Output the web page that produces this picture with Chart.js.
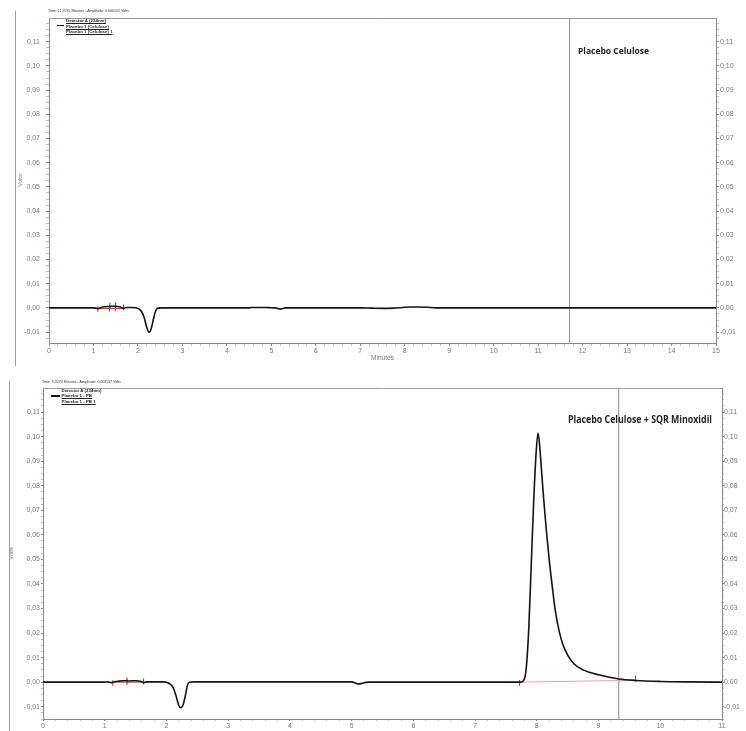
<!DOCTYPE html>
<html><head><meta charset="utf-8">
<script src="https://cdn.jsdelivr.net/npm/chart.js@4.4.1/dist/chart.umd.min.js"></script>
<style>
body{margin:0;background:#fff;overflow:hidden;font-family:"Liberation Sans",Arial,sans-serif;}
#wrap{position:relative;width:746px;height:731px;}
canvas{position:absolute;left:0;}
.vline{position:absolute;width:0;border-left:1px solid #9a9a9a;}
.hdr{position:absolute;white-space:nowrap;font-size:3.6px;line-height:1;color:#333;}
.leg{position:absolute;white-space:nowrap;font-size:4.4px;line-height:5.3px;color:#222;font-weight:bold;}
.leg div{text-decoration:underline;}
.sw{position:absolute;background:#111;}
.ttl{position:absolute;white-space:nowrap;font-family:"Open Sans",sans-serif;font-weight:700;color:#222;line-height:1;transform-origin:left center;}
</style></head><body>
<div id="wrap">
<canvas id="c1" width="746" height="365" style="top:0"></canvas>
<canvas id="c2" width="746" height="363" style="top:368px"></canvas>
<div class="vline" style="left:15px;top:11px;height:355px"></div>
<div class="vline" style="left:9px;top:381px;height:350px"></div>
<div class="hdr" style="left:48px;top:10.2px">Time: 11,7075 Minutes - Amplitude: 0,000102 Volts</div>
<div class="hdr" style="left:42px;top:381px">Time: 9,3270 Minutes - Amplitude: 0,001137 Volts</div>
<div class="leg" style="left:66px;top:18.4px"><div>Detector A (234nm)</div><div>Placebo 1 (Celulose)</div><div>Placebo 1 (Celulose) 1</div></div>
<div class="sw" style="left:57px;top:25px;width:7px;height:1.2px"></div>
<div class="leg" style="left:61.5px;top:388.2px"><div style="text-decoration:none">Detector A (234nm)</div><div>Placebo 1 - PB</div><div>Placebo 1 - PB 1</div></div>
<div class="sw" style="left:51px;top:395px;width:8.5px;height:1.6px"></div>
<div class="ttl" data-w="71" style="left:578px;top:46.2px;font-size:9.5px">Placebo Celulose</div>
<div class="ttl" data-w="144" style="left:568px;top:414px;font-size:10px">Placebo Celulose + SQR Minoxidil</div>
</div>
<script>
// ---- Data: chromatogram 1 (Placebo Celulose), minutes / volts
const topTimes = [0, 0.5, 1.0, 1.05, 1.1, 1.17, 1.25, 1.35, 1.45, 1.55, 1.62, 1.68, 1.74, 1.85, 1.95, 2.02, 2.08, 2.14, 2.2, 2.25, 2.3, 2.35, 2.4, 2.45, 2.55, 3.0, 4.0, 4.5, 4.55, 4.85, 4.95, 5.1, 5.15, 5.2, 5.25, 5.32, 6.0, 7.0, 7.25, 7.55, 7.75, 7.95, 8.15, 8.3, 8.5, 8.7, 9.0, 12.0, 15.0];
const topVolts = [0, 0, 0, -0.0001, -0.0003, 0.0002, 0.0005, 0.0006, 0.0007, 0.0006, 0.0003, -0.0002, 0.0002, 0.0002, 0.0001, -0.0004, -0.0015, -0.004, -0.0082, -0.0100, -0.0085, -0.0045, -0.0012, -0.0001, 0, 0, 0, 0, 0.0002, 0.0002, 0.0001, 0, -0.0003, -0.0005, -0.0003, 0, 0, 0, -0.0001, -0.0002, -0.0001, 0.0002, 0.0004, 0.0004, 0.0003, 0, 0, 0, 0];
const topCursor = 11.7075;
const topRedLineX = [1.1, 1.68], topRedLineY = [-0.0003, -0.0002];
const topRedTickX = [1.1, 1.36, 1.49], topRedTickY = [-0.0004, -0.0003, -0.0003];
const topBlueTickX = [1.37, 1.5, 1.68], topBlueTickY = [0.0009, 0.0010, 0.0002];

// ---- Data: chromatogram 2 (Placebo Celulose + SQR Minoxidil)
const botTimes = [0, 0.5, 1.0, 1.05, 1.1, 1.15, 1.22, 1.3, 1.4, 1.5, 1.58, 1.63, 1.68, 1.75, 1.85, 1.95, 2.0, 2.06, 2.11, 2.16, 2.2, 2.23, 2.27, 2.31, 2.34, 2.37, 2.45, 3.0, 4.0, 5.0, 5.05, 5.1, 5.15, 5.2, 5.27, 6.0, 7.0, 7.74, 7.79, 7.83, 7.87, 7.91, 7.95, 7.99, 8.02, 8.05, 8.08, 8.11, 8.15, 8.2, 8.25, 8.3, 8.36, 8.42, 8.5, 8.6, 8.75, 9.0, 9.33, 9.6, 10.0, 10.5, 11.0];
const botVolts = [0, 0, 0, 0.0001, -0.0002, 0.0001, 0.0004, 0.0006, 0.0005, 0.0006, 0.0004, -0.0002, 0.0001, 0.0001, 0.0001, 0.0001, 0, -0.0008, -0.0023, -0.006, -0.0095, -0.0104, -0.0092, -0.005, -0.0012, 0, 0.0001, 0.0001, 0.0001, 0.0001, -0.0002, -0.0007, -0.0006, -0.0002, 0, 0, 0, 0, 0.0008, 0.006, 0.022, 0.048, 0.074, 0.094, 0.1015, 0.095, 0.085, 0.075, 0.063, 0.050, 0.039, 0.029, 0.021, 0.0155, 0.011, 0.0075, 0.005, 0.003, 0.0013, 0.0007, 0.0003, 0.0001, 0];
const botCursor = 9.327;
const botRedLineX = [1.13, 1.63], botRedLineY = [0, 0];
const botRedTickX = [1.13, 1.36, 7.72], botRedTickY = [-0.0004, 0.0001, -0.0003];
const botBlueTickX = [1.36, 1.63, 9.6], botBlueTickY = [0.0007, 0.0003, 0.0014];
const botPeakBaseX = [7.72, 9.6], botPeakBaseY = [0.0000, 0.0008];
const botPeakBase2X = [9.33, 9.6], botPeakBase2Y = [0.0006, 0.0008];

const pts = (xs, ys) => xs.map((x, i) => ({x, y: ys[i]}));
const isMajorY = v => Math.abs(v * 100 - Math.round(v * 100)) < 1e-6;
const fmtY = v => (Math.abs(v) < 1e-9 ? 0 : v).toFixed(2).replace('.', ',');
const FONT = '"Liberation Sans", Arial, sans-serif';

function yAxis(pos, min, max, width, tl, pad, title, titlePad) {
  return {
    type: 'linear', position: pos, min, max,
    afterFit: s => { s.width = width; },
    border: {display: true, color: '#8a8a8a', width: 1},
    grid: {drawOnChartArea: false, drawTicks: true, tickLength: tl,
      color: c => (c.tick && isMajorY(c.tick.value)) ? '#8a8a8a' : '#d8b0b0'},
    ticks: {stepSize: 0.0025, includeBounds: false, autoSkip: false, padding: pad,
      color: '#7a7a7a', font: {size: 7, family: FONT},
      callback: v => isMajorY(v) ? fmtY(v) : ''},
    title: title ? {display: true, text: 'Volts', color: '#7a7a7a', font: {size: 6, family: FONT},
      padding: {top: titlePad, bottom: 0}} : {display: false}
  };
}

const framePlugin = {
  id: 'frame',
  afterDraw(chart) {
    const {ctx, chartArea: a} = chart;
    ctx.save();
    ctx.strokeStyle = '#9a9a9a'; ctx.lineWidth = 1;
    ctx.beginPath(); ctx.moveTo(a.left, a.top + 0.5); ctx.lineTo(a.right, a.top + 0.5); ctx.stroke();
    ctx.restore();
  }
};

function makeChart(id, cfg) {
  const marks = (xs, ys, color) => ({type: 'scatter', data: pts(xs, ys), showLine: false,
    pointStyle: 'line', rotation: 90, pointRadius: 3, borderColor: color, borderWidth: 1, backgroundColor: color});
  const seg = (xs, ys, color, w) => ({type: 'line', data: pts(xs, ys), borderColor: color, borderWidth: w, pointRadius: 0, tension: 0});
  const datasets = [
    {type: 'line', data: pts(cfg.times, cfg.volts), borderColor: '#141414', borderWidth: 1.6,
      pointRadius: 0, cubicInterpolationMode: 'monotone', fill: false},
    ...cfg.extra.map(e => e.kind === 'seg' ? seg(e.x, e.y, e.color, e.w) : marks(e.x, e.y, e.color)),
    seg([cfg.cursor, cfg.cursor], [cfg.ymin, cfg.ymax], '#8e8e8e', 1)
  ];
  return new Chart(document.getElementById(id), {
    data: {datasets},
    options: {
      responsive: false, animation: false, events: [],
      layout: {padding: {top: cfg.padTop, left: 0, right: 0, bottom: 0}},
      plugins: {legend: {display: false}, tooltip: {enabled: false}},
      scales: {
        x: {
          type: 'linear', position: 'bottom', min: 0, max: cfg.xmax,
          afterFit: s => { s.height = cfg.xh; },
          border: {display: true, color: '#8a8a8a', width: 1},
          grid: {drawOnChartArea: false, drawTicks: true, tickLength: cfg.xtl,
            color: c => (c.tick && Math.abs(c.tick.value - Math.round(c.tick.value)) < 1e-6) ? '#8a8a8a' : '#c4c4c4'},
          ticks: {stepSize: 0.2, autoSkip: false, maxRotation: 0, padding: 1, includeBounds: false,
            color: '#7a7a7a', font: {size: 7, family: FONT},
            callback: v => Math.abs(v - Math.round(v)) < 1e-6 ? String(Math.round(v)) : ''},
          title: cfg.xtitle ? {display: true, text: 'Minutes', color: '#7a7a7a', font: {size: 6.5, family: FONT},
            padding: {top: 0, bottom: 3}} : {display: false}
        },
        y: yAxis('left', cfg.ymin, cfg.ymax, cfg.lw, cfg.ltl, cfg.lpad, true, cfg.titlePad),
        y2: yAxis('right', cfg.ymin, cfg.ymax, cfg.rw, cfg.ltl, cfg.rpad, false, 0)
      }
    },
    plugins: [framePlugin]
  });
}

makeChart('c1', {
  times: topTimes, volts: topVolts, cursor: topCursor,
  xmax: 15, ymin: -0.0145, ymax: 0.1198, padTop: 18, xh: 22, xtl: 3, xtitle: true,
  lw: 49, rw: 30, ltl: 3, lpad: 6, rpad: 1, titlePad: 17,
  extra: [
    {kind: 'seg', x: topRedLineX, y: topRedLineY, color: '#e03030', w: 1},
    {kind: 'mark', x: topRedTickX, y: topRedTickY, color: '#e03030'},
    {kind: 'mark', x: topBlueTickX, y: topBlueTickY, color: '#3040d0'}
  ]
});

makeChart('c2', {
  times: botTimes, volts: botVolts, cursor: botCursor,
  xmax: 11, ymin: -0.0150, ymax: 0.1198, padTop: 20, xh: 12, xtl: 2, xtitle: false,
  lw: 43, rw: 24, ltl: 2, lpad: 1, rpad: 0, titlePad: 8,
  extra: [
    {kind: 'seg', x: botRedLineX, y: botRedLineY, color: '#e03030', w: 1},
    {kind: 'seg', x: botPeakBaseX, y: botPeakBaseY, color: '#f2a0a0', w: 1},
    {kind: 'seg', x: botPeakBase2X, y: botPeakBase2Y, color: '#c02020', w: 1},
    {kind: 'mark', x: botRedTickX, y: botRedTickY, color: '#e03030'},
    {kind: 'mark', x: botBlueTickX, y: botBlueTickY, color: '#3040d0'}
  ]
});

document.querySelectorAll('.ttl').forEach(el => {
  const w = parseFloat(el.dataset.w);
  const cur = el.getBoundingClientRect().width;
  if (cur > 0) el.style.transform = 'scaleX(' + (w / cur) + ')';
});
</script>
</body></html>
